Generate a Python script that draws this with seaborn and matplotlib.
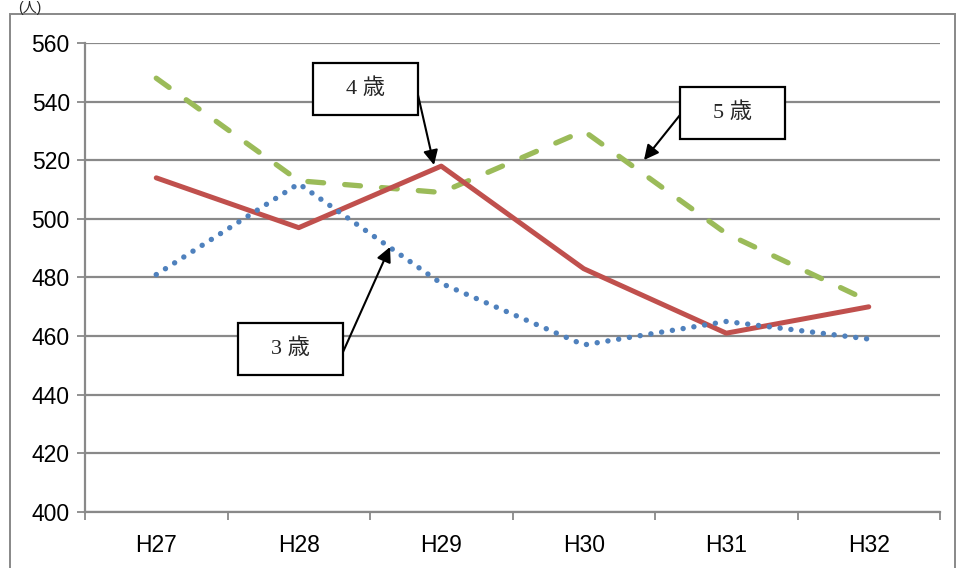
import matplotlib
matplotlib.use("Agg")
import matplotlib.pyplot as plt
from matplotlib.patches import Rectangle
import seaborn as sns
import pandas as pd

# --- data -------------------------------------------------------------
years = ["H27", "H28", "H29", "H30", "H31", "H32"]
age3 = [481, 512, 478, 457, 465, 459]
age4 = [514, 497, 518, 483, 461, 470]
age5 = [548, 513, 509, 530, 495, 472]
y_ticks = [400, 420, 440, 460, 480, 500, 520, 540, 560]
series_labels = ["3 歳", "4 歳", "5 歳"]
unit_label = "(人)"

sns.set_theme(style="white")
plt.rcParams["font.family"] = ["Liberation Sans", "Noto Sans CJK JP"]

W, H = 957, 568
fig = plt.figure(figsize=(W / 100, H / 100), dpi=100)
ax = fig.add_axes([85 / W, 1 - 512 / H, (940 - 85) / W, (512 - 43) / H])

pos = list(range(len(years)))
df = pd.DataFrame({"pos": pos, "age3": age3, "age4": age4, "age5": age5})

grid_c = "#898989"
for v in y_ticks:
    ax.axhline(v, color=grid_c, lw=1.6, zorder=0)

sns.lineplot(data=df, x="pos", y="age5", ax=ax, color="#9BBB59", lw=3.8,
             zorder=3)
ax.lines[-1].set_dashes([3.0, 4.0])
ax.lines[-1].set_dash_capstyle("round")
sns.lineplot(data=df, x="pos", y="age4", ax=ax, color="#C0504D", lw=3.6,
             zorder=4)
sns.lineplot(data=df, x="pos", y="age3", ax=ax, color="#4F81BD", lw=3.9,
             zorder=5)
ax.lines[-1].set_dashes([0.01, 2.0])
ax.lines[-1].set_dash_capstyle("round")

ax.set_xlim(-0.5, len(years) - 0.5)
ax.set_ylim(400, 560)
ax.set_yticks(y_ticks)
ax.set_xticks(pos)
ax.set_xticklabels(years)
ax.set_xticks([p - 0.5 for p in pos] + [len(years) - 0.5], minor=True)
ax.set_xlabel("")
ax.set_ylabel("")
ax.tick_params(axis="x", which="major", length=0, pad=16, labelsize=16.5,
               labelcolor="black")
ax.tick_params(axis="x", which="minor", length=6, width=1.3, color=grid_c,
               bottom=True, direction="out")
ax.tick_params(axis="y", length=6, width=1.3, color=grid_c, left=True,
               direction="out", pad=5, labelsize=16.5, labelcolor="black")
for s in ["top", "right"]:
    ax.spines[s].set_visible(False)
for s in ["left", "bottom"]:
    ax.spines[s].set_color(grid_c)
    ax.spines[s].set_linewidth(1.6)


def to_data(px, py):
    return (-0.5 + (px - 85) / 142.5, 560 - (py - 43) * 160 / 469)


def callout(label, box, start, tip):
    x0, y0, x1, y1 = box
    dx0, dy1 = to_data(x0, y1)
    dx1, dy0 = to_data(x1, y0)
    ax.add_patch(Rectangle((dx0, dy1), dx1 - dx0, dy0 - dy1, facecolor="white",
                           edgecolor="black", lw=1.6, zorder=8,
                           clip_on=False))
    ax.text((dx0 + dx1) / 2, (dy0 + dy1) / 2, label, ha="center",
            va="center", fontsize=16, zorder=9,
            family=["Liberation Serif", "Noto Sans CJK JP"])
    ax.annotate("", xy=to_data(*tip), xytext=to_data(*start),
                arrowprops=dict(arrowstyle="-|>", color="black", lw=1.5,
                                mutation_scale=22, shrinkA=0, shrinkB=0),
                zorder=9)


callout(series_labels[1], (313, 63, 418, 115), (418, 95), (434, 165))
callout(series_labels[2], (680, 87, 785, 139), (680, 115), (644, 160))
callout(series_labels[0], (238, 323, 343, 375), (343, 352), (390, 247))

# outer frame of the chart area
fig.add_artist(Rectangle((10 / W, -0.05), (955 - 10) / W, 1 - 14 / H + 0.05,
                         transform=fig.transFigure, fill=False,
                         edgecolor="#888888", lw=1.4))
fig.text(18 / W, 1 - 1 / H, unit_label, ha="left", va="top", fontsize=10)

fig.savefig("out.png", dpi=100)
